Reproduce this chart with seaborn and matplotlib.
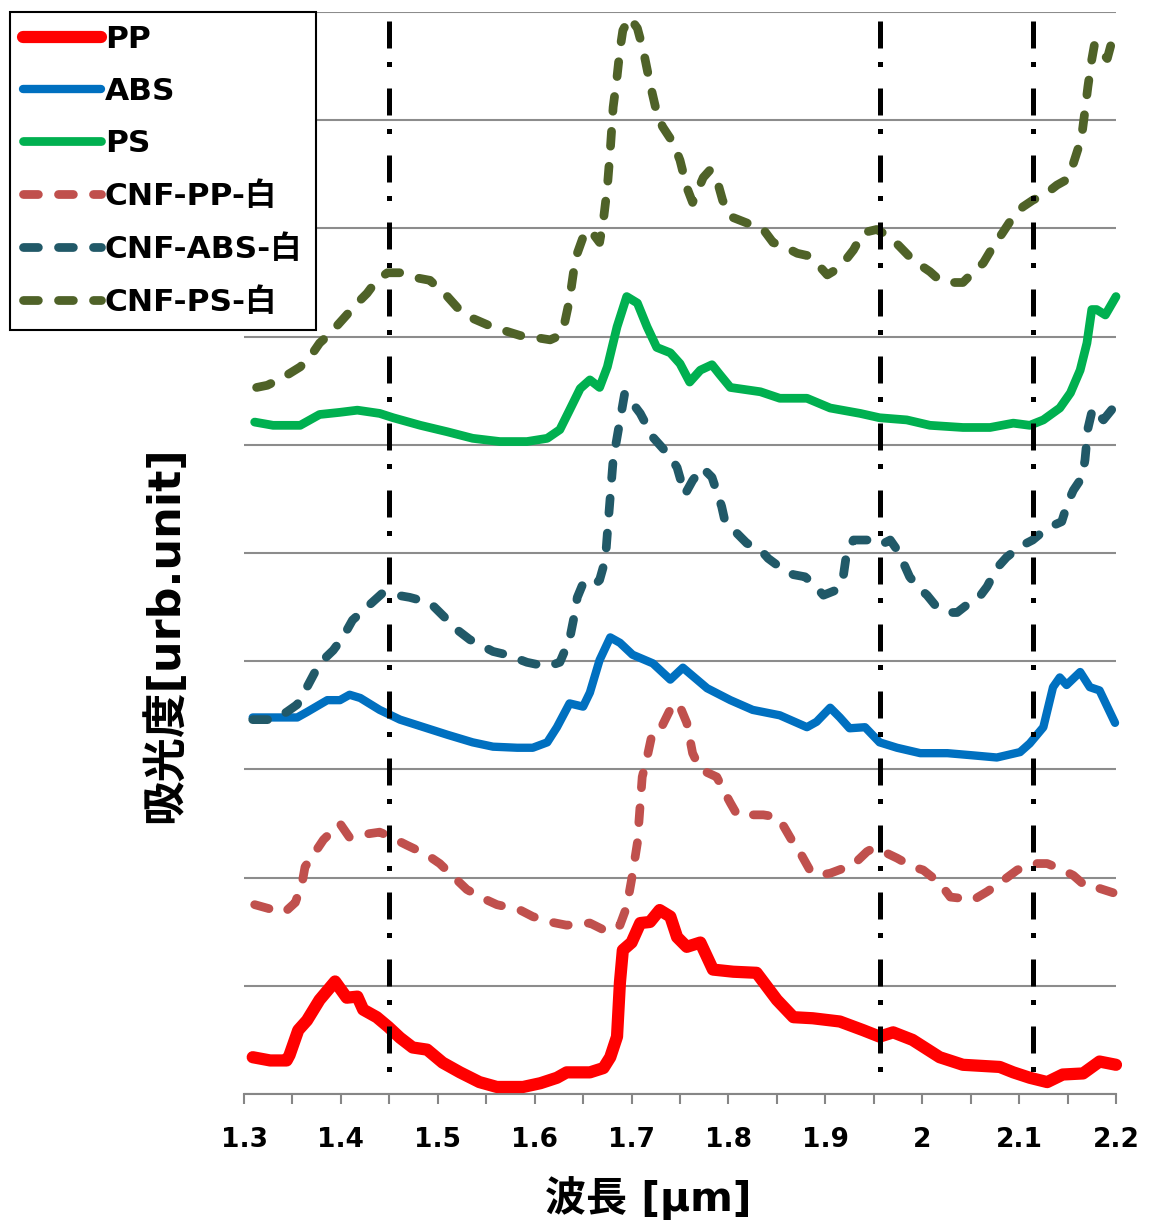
import numpy as np
import pandas as pd
import matplotlib
matplotlib.use("Agg")
import matplotlib.pyplot as plt
from matplotlib.lines import Line2D
import seaborn as sns

# ---------------- data ----------------
PP_x = [1.309,1.327,1.344,1.347,1.356,1.365,1.378,1.394,1.406,1.417,1.423,1.437,1.449,1.461,1.474,1.489,1.505,1.523,1.543,1.561,1.588,1.606,1.623,1.633,1.657,1.671,1.678,1.685,1.688,1.691,1.700,1.709,1.719,1.729,1.740,1.747,1.757,1.771,1.784,1.805,1.829,1.850,1.867,1.887,1.915,1.939,1.956,1.970,1.990,2.018,2.042,2.080,2.094,2.111,2.129,2.145,2.166,2.183,2.200]
PP_y = [0.34,0.31,0.31,0.36,0.59,0.68,0.87,1.04,0.89,0.90,0.78,0.71,0.62,0.52,0.43,0.41,0.29,0.20,0.11,0.065,0.065,0.10,0.15,0.20,0.20,0.24,0.34,0.53,1.03,1.33,1.40,1.58,1.59,1.70,1.64,1.45,1.36,1.40,1.15,1.13,1.12,0.87,0.71,0.70,0.67,0.59,0.53,0.57,0.50,0.34,0.27,0.25,0.20,0.15,0.11,0.18,0.19,0.30,0.27]

ABS_x = [1.309,1.355,1.365,1.386,1.399,1.409,1.420,1.440,1.461,1.489,1.510,1.536,1.557,1.582,1.598,1.613,1.623,1.636,1.650,1.657,1.667,1.678,1.688,1.701,1.722,1.740,1.753,1.778,1.802,1.825,1.853,1.881,1.891,1.905,1.915,1.925,1.941,1.956,1.974,1.998,2.026,2.052,2.077,2.101,2.111,2.125,2.135,2.142,2.149,2.163,2.173,2.183,2.191,2.199]
ABS_y = [3.48,3.48,3.53,3.64,3.64,3.69,3.66,3.55,3.46,3.38,3.32,3.25,3.21,3.20,3.20,3.25,3.39,3.61,3.58,3.71,4.01,4.22,4.17,4.06,3.98,3.83,3.94,3.75,3.64,3.55,3.50,3.39,3.44,3.57,3.48,3.38,3.39,3.25,3.20,3.15,3.15,3.13,3.11,3.16,3.24,3.39,3.76,3.85,3.78,3.90,3.76,3.73,3.58,3.43]

PS_x = [1.311,1.330,1.358,1.378,1.399,1.417,1.440,1.454,1.482,1.510,1.536,1.564,1.592,1.613,1.626,1.636,1.647,1.657,1.667,1.675,1.685,1.695,1.706,1.716,1.726,1.740,1.750,1.760,1.771,1.783,1.791,1.802,1.833,1.853,1.881,1.905,1.936,1.956,1.984,2.008,2.042,2.070,2.094,2.111,2.125,2.142,2.153,2.163,2.170,2.175,2.180,2.189,2.200]
PS_y = [6.21,6.18,6.18,6.28,6.30,6.32,6.29,6.25,6.18,6.12,6.06,6.03,6.03,6.06,6.14,6.32,6.52,6.60,6.53,6.72,7.09,7.37,7.31,7.09,6.90,6.85,6.75,6.58,6.69,6.74,6.65,6.53,6.49,6.43,6.43,6.34,6.29,6.25,6.23,6.18,6.16,6.16,6.20,6.18,6.23,6.34,6.48,6.69,6.94,7.25,7.25,7.20,7.37]

CNF_PP_x = [1.311,1.327,1.342,1.353,1.360,1.363,1.373,1.382,1.399,1.409,1.417,1.440,1.448,1.468,1.489,1.502,1.516,1.530,1.544,1.561,1.585,1.598,1.616,1.633,1.657,1.675,1.688,1.695,1.700,1.706,1.711,1.716,1.722,1.732,1.743,1.750,1.757,1.763,1.771,1.788,1.793,1.802,1.809,1.836,1.850,1.856,1.867,1.874,1.884,1.892,1.905,1.929,1.943,1.949,1.960,1.974,1.990,2.001,2.018,2.029,2.039,2.052,2.067,2.080,2.098,2.114,2.129,2.145,2.156,2.170,2.183,2.197]
CNF_PP_y = [1.75,1.71,1.68,1.77,1.95,2.10,2.23,2.35,2.50,2.37,2.39,2.42,2.39,2.30,2.21,2.13,2.01,1.89,1.82,1.75,1.70,1.64,1.59,1.56,1.58,1.50,1.56,1.73,1.98,2.32,2.93,3.11,3.36,3.41,3.61,3.58,3.43,3.15,3.00,2.93,2.84,2.69,2.58,2.58,2.56,2.49,2.32,2.23,2.07,2.02,2.04,2.12,2.24,2.27,2.24,2.18,2.10,2.07,1.95,1.82,1.81,1.79,1.87,1.95,2.07,2.13,2.13,2.07,2.02,1.91,1.90,1.86]

CNF_ABS_x = [1.309,1.330,1.344,1.355,1.365,1.378,1.392,1.402,1.412,1.427,1.443,1.458,1.471,1.492,1.510,1.520,1.533,1.557,1.571,1.592,1.613,1.626,1.636,1.640,1.644,1.650,1.660,1.667,1.673,1.675,1.678,1.681,1.693,1.709,1.722,1.740,1.747,1.755,1.763,1.773,1.783,1.793,1.796,1.809,1.819,1.833,1.841,1.853,1.867,1.879,1.887,1.898,1.912,1.918,1.922,1.929,1.943,1.956,1.967,1.974,1.979,1.987,1.995,2.005,2.015,2.029,2.036,2.046,2.057,2.067,2.077,2.087,2.101,2.114,2.129,2.144,2.150,2.156,2.165,2.168,2.171,2.176,2.187,2.197]
CNF_ABS_y = [3.46,3.46,3.53,3.60,3.76,3.98,4.10,4.22,4.38,4.50,4.63,4.61,4.59,4.54,4.38,4.29,4.20,4.09,4.06,3.99,3.95,3.99,4.20,4.38,4.59,4.72,4.69,4.75,4.94,5.18,5.52,5.86,6.48,6.29,6.07,5.89,5.79,5.54,5.67,5.79,5.70,5.43,5.31,5.18,5.09,5.03,4.95,4.87,4.80,4.78,4.72,4.61,4.66,4.75,5.00,5.12,5.12,5.07,5.12,5.03,4.94,4.78,4.69,4.61,4.50,4.45,4.45,4.52,4.57,4.69,4.86,4.96,5.06,5.12,5.23,5.29,5.46,5.58,5.70,5.86,6.15,6.34,6.23,6.34]

CNF_PS_x = [1.313,1.324,1.340,1.358,1.368,1.378,1.389,1.399,1.417,1.427,1.437,1.448,1.461,1.474,1.492,1.499,1.510,1.520,1.533,1.551,1.567,1.585,1.602,1.616,1.626,1.631,1.636,1.640,1.644,1.650,1.657,1.667,1.671,1.675,1.678,1.681,1.685,1.688,1.691,1.698,1.706,1.712,1.719,1.726,1.732,1.743,1.750,1.757,1.763,1.774,1.781,1.789,1.794,1.802,1.819,1.836,1.846,1.860,1.871,1.881,1.895,1.902,1.915,1.929,1.939,1.953,1.967,1.977,1.990,2.008,2.018,2.032,2.042,2.052,2.063,2.073,2.083,2.094,2.104,2.114,2.129,2.139,2.149,2.156,2.161,2.165,2.168,2.171,2.175,2.178,2.186,2.191,2.197]
CNF_PS_y = [6.53,6.55,6.62,6.72,6.81,6.94,7.03,7.13,7.31,7.40,7.52,7.59,7.59,7.55,7.52,7.46,7.37,7.27,7.18,7.11,7.06,7.01,6.99,6.97,7.01,7.13,7.34,7.59,7.77,7.92,7.99,7.87,8.08,8.38,8.72,9.12,9.40,9.65,9.83,9.95,9.85,9.65,9.34,9.07,8.94,8.79,8.63,8.38,8.24,8.47,8.54,8.42,8.26,8.11,8.05,7.99,7.87,7.82,7.77,7.75,7.64,7.57,7.64,7.80,7.96,7.99,7.92,7.83,7.71,7.60,7.52,7.50,7.50,7.59,7.68,7.83,7.96,8.11,8.20,8.26,8.33,8.40,8.45,8.60,8.74,8.88,9.09,9.31,9.56,9.71,9.62,9.57,9.77]

series_names = ["PP", "ABS", "PS", "CNF-PP-白", "CNF-ABS-白", "CNF-PS-白"]
marker_wavelengths = [1.45, 1.956, 2.114]
x_ticks = [1.3, 1.4, 1.5, 1.6, 1.7, 1.8, 1.9, 2.0, 2.1, 2.2]
x_tick_labels = ["1.3", "1.4", "1.5", "1.6", "1.7", "1.8", "1.9", "2", "2.1", "2.2"]

# ---------------- style ----------------
sns.set_style("white")
plt.rcParams['font.family'] = ['DejaVu Sans', 'Noto Sans CJK JP']
plt.rcParams['font.weight'] = 'bold'
plt.rcParams['text.color'] = 'black'

colors = ["#FF0000", "#0070C0", "#00B050", "#C0504D", "#215968", "#4F6228"]
widths = [8.8, 6.0, 6.3, 6.3, 6.3, 6.3]
dash = (0, (1.7, 2.3))
styles = ["-", "-", "-", dash, dash, dash]

xs = [PP_x, ABS_x, PS_x, CNF_PP_x, CNF_ABS_x, CNF_PS_x]
ys = [PP_y, ABS_y, PS_y, CNF_PP_y, CNF_ABS_y, CNF_PS_y]

fig = plt.figure(figsize=(11.5, 12.25), dpi=100)
ax = fig.add_axes([244/1150, 1-1094/1225, (1116-244)/1150, (1094-12)/1225])

handles = []
for name, x, y, c, w, ls in zip(series_names, xs, ys, colors, widths, styles):
    df = pd.DataFrame({"wavelength": x, "absorbance": y})
    sns.lineplot(data=df, x="wavelength", y="absorbance", ax=ax, color=c,
                 linewidth=w, linestyle=ls, estimator=None, sort=False,
                 solid_capstyle="round", dash_capstyle="round",
                 solid_joinstyle="round", clip_on=False, zorder=3)
    handles.append(Line2D([0], [0], color=c, linewidth=w, linestyle=ls,
                          solid_capstyle="round", dash_capstyle="round"))

for xv in marker_wavelengths:
    ax.plot([xv, xv], [9.92, 0.1], color="black", linewidth=3.6,
            linestyle=(0, (5.4, 2.7, 1.0, 4.3)), dash_capstyle="butt",
            zorder=5, clip_on=False)

if ax.get_legend() is not None:
    ax.get_legend().remove()

ax.set_xlim(1.3, 2.2)
ax.set_ylim(0, 10)
ax.set_yticks(np.arange(0, 11, 1))
ax.set_yticklabels([])
ax.yaxis.grid(True, color="#8C8C8C", linewidth=1.5)
ax.xaxis.grid(False)
ax.tick_params(axis="y", length=0)

ax.set_xticks(x_ticks)
ax.set_xticklabels(x_tick_labels, fontsize=19, fontweight="bold")
ax.set_xticks(np.arange(1.35, 2.2, 0.1), minor=True)
ax.tick_params(axis="x", which="both", direction="out", length=7.5, width=1.5,
               color="#868686", labelcolor="black", pad=16, bottom=True)

for s in ["top", "right", "left"]:
    ax.spines[s].set_visible(False)
ax.spines["bottom"].set_color("#868686")
ax.spines["bottom"].set_linewidth(1.5)

ax.set_xlabel("波長 [μm]", fontsize=29.5, fontweight="bold", color="black")
ax.xaxis.set_label_coords((648-244)/872, -(1220-1094)/1082)
ax.xaxis.label.set_va("bottom")
ax.set_ylabel("吸光度[urb.unit]", fontsize=32, fontweight="bold", color="black")
ax.yaxis.set_label_coords(-(244-187)/872, (1094-635)/1082)

leg = fig.legend(handles, series_names, loc="upper left",
                 bbox_to_anchor=(10/1150, 1-12/1225), bbox_transform=fig.transFigure,
                 frameon=True, fancybox=False, edgecolor="black", framealpha=1,
                 borderaxespad=0, prop=dict(weight="bold", size=22.5),
                 handlelength=2.5, handletextpad=0.12, labelspacing=0.74,
                 borderpad=0.42)
leg.get_frame().set_linewidth(1.5)
for t in leg.get_texts():
    t.set_color("black")

fig.savefig("out.png", dpi=100)
